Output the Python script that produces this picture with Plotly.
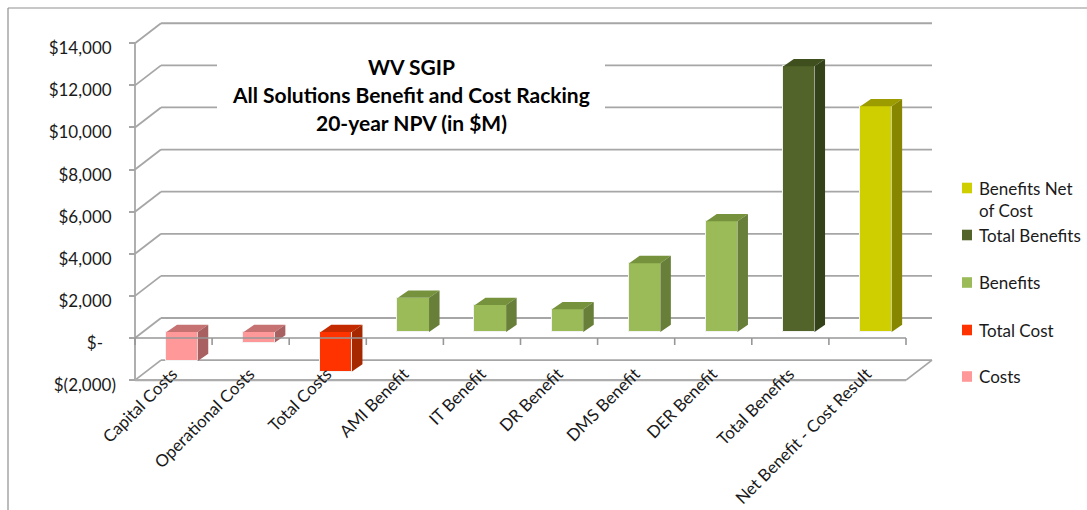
import plotly.graph_objects as go

# Categories along the horizontal axis
categories = ["Capital Costs", "Operational Costs", "Total Costs", "AMI Benefit", "IT Benefit",
              "DR Benefit", "DMS Benefit", "DER Benefit", "Total Benefits", "Net Benefit - Cost Result"]

# Values in $M, grouped by legend series
cost_idx = [0, 1]
cost_vals = [-1375, -500]
total_cost_idx = [2]
total_cost_vals = [-1880]
benefit_idx = [3, 4, 5, 6, 7]
benefit_vals = [1625, 1280, 1075, 3270, 5260]
total_benefit_idx = [8]
total_benefit_vals = [12620]
net_idx = [9]
net_vals = [10720]

y_ticks = [-2000, 0, 2000, 4000, 6000, 8000, 10000, 12000, 14000]
y_labels = ["$(2,000)", "$-\u00a0\u00a0\u00a0", "$2,000\u00a0", "$4,000\u00a0", "$6,000\u00a0", "$8,000\u00a0",
            "$10,000\u00a0", "$12,000\u00a0", "$14,000\u00a0"]

# Page geometry of the plot area and the pseudo-3D projection
W, H = 1087, 510
PLOT_L, PLOT_R, PLOT_T, PLOT_B = 129, 940, 18, 386
LEFT_WALL = 135
CAT_PX = 77.1
ZERO_PX = 338
USD_PER_PX = 47.5


def x_of(px):
    return (px - LEFT_WALL) / CAT_PX - 0.5


def y_of(px):
    return (ZERO_PX - px) * USD_PER_PX


def dx_of(px):
    return px / CAT_PX


def dy_of(px):
    return px * USD_PER_PX


def paper_x(px):
    return (px - PLOT_L) / (PLOT_R - PLOT_L)


def paper_y(px):
    return (PLOT_B - px) / (PLOT_B - PLOT_T)


WALL_DX, WALL_DY = dx_of(26), dy_of(20)
BAR_SHIFT_X, BAR_BASE = dx_of(8.6), dy_of(6)
BAR_W = dx_of(31.2)
BAR_EDGE = dx_of(1)
BAR_DX, BAR_DY = dx_of(10.5), dy_of(7.3)

GRID = "#a6a6a6"
FRAME = "#8f8f8f"
FONT = "Lato"
TEXT = "#1a1a1a"

# name, category positions, values, front / top / side colours, key centre row
series = [
    ("Benefits Net<br>of Cost", net_idx, net_vals, "#cfcf00", "#9c9c00", "#868600", 188),
    ("Total Benefits", total_benefit_idx, total_benefit_vals, "#526429", "#3f4f1e", "#34421a", 235),
    ("Benefits", benefit_idx, benefit_vals, "#9bbb59", "#76923c", "#677f38", 282.5),
    ("Total Cost", total_cost_idx, total_cost_vals, "#ff3300", "#c42a00", "#a62800", 330),
    ("Costs", cost_idx, cost_vals, "#ff9999", "#c77272", "#a86060", 376.5),
]

fig = go.Figure()
shapes = []
annotations = []

for name, idx, vals, front, top, side, key_y in series:
    # Front face: a real bar, lifted and shifted onto the bar plane, with a pale rim
    fig.add_trace(go.Bar(
        x=idx, y=vals, base=BAR_BASE, name=name.replace("<br>", " "), width=BAR_W + BAR_EDGE,
        offset=BAR_SHIFT_X - (BAR_W + BAR_EDGE) / 2,
        marker=dict(color=front, line=dict(width=1, color="#f2f2f2")),
        hoverinfo="x+y", showlegend=False,
    ))
    top_x, top_y, side_x, side_y = [], [], [], []
    for i, v in zip(idx, vals):
        x0 = i + BAR_SHIFT_X - BAR_W / 2
        x1 = x0 + BAR_W
        hi = BAR_BASE + max(v, 0)
        lo = BAR_BASE + min(v, 0)
        top_x += [x0, x0 + BAR_DX, x1 + BAR_DX, x1, x0, None]
        top_y += [hi, hi + BAR_DY, hi + BAR_DY, hi, hi, None]
        side_x += [x1, x1 + BAR_DX, x1 + BAR_DX, x1, x1, None]
        side_y += [hi, hi + BAR_DY, lo + BAR_DY, lo, hi, None]
    for xs, ys, colour in ((top_x, top_y, top), (side_x, side_y, side)):
        fig.add_trace(go.Scatter(
            x=xs, y=ys, mode="lines", fill="toself", fillcolor=colour,
            line=dict(width=0, color=colour), showlegend=False, hoverinfo="skip",
        ))
    # Colour key on the right: swatch and text, spaced unevenly as in the Excel layout
    shapes.append(dict(type="rect", xref="paper", yref="paper",
                       x0=paper_x(962), x1=paper_x(972), y0=paper_y(key_y + 5.3), y1=paper_y(key_y - 5.3),
                       fillcolor=front, line=dict(width=0)))
    annotations.append(dict(text=name, xref="paper", yref="paper", x=paper_x(978), y=paper_y(key_y - 11.5),
                            xanchor="left", yanchor="top", align="left", showarrow=False, borderpad=0,
                            font=dict(family=FONT, size=17, color=TEXT)))


def line(x0, y0, x1, y1, colour=GRID, width=1.8, layer="below"):
    shapes.append(dict(type="line", xref="x", yref="y", x0=x0, y0=y0, x1=x1, y1=y1,
                       line=dict(color=colour, width=width), layer=layer))


x_left, x_right = -0.5, len(categories) - 0.5

# Back wall gridlines and their diagonals on the side wall
for t in y_ticks:
    line(x_left, t, x_left + WALL_DX, t + WALL_DY)
    line(x_left + WALL_DX, t + WALL_DY, x_right + WALL_DX, t + WALL_DY)

# White panel behind the title breaks the two upper gridlines
shapes.append(dict(type="rect", xref="x", yref="y", x0=x_of(217), x1=x_of(605), y0=y_of(130), y1=y_of(50),
                   fillcolor="white", line=dict(width=0), layer="below"))

# Left wall edge and floor outline
line(x_left, y_ticks[0], x_left, y_ticks[-1])
line(x_left, y_ticks[0], x_right, y_ticks[0], colour="#adadad", width=2.4)
line(x_right, y_ticks[0], x_right + WALL_DX, y_ticks[0] + WALL_DY)

# Category axis on the zero plane, passing in front of the bars
line(x_left, 0, x_right, 0, colour="#979797", width=1.6, layer="above")
for k in range(len(categories) + 1):
    line(x_left + k, 0, x_left + k, -dy_of(7), colour="#979797", width=1.6, layer="above")

# Outer chart frame (left and top edges)
shapes.append(dict(type="line", xref="paper", yref="paper", x0=paper_x(8), x1=paper_x(8),
                   y0=paper_y(8), y1=paper_y(H), line=dict(color=FRAME, width=1.2)))
shapes.append(dict(type="line", xref="paper", yref="paper", x0=paper_x(8), x1=paper_x(W),
                   y0=paper_y(8), y1=paper_y(8), line=dict(color=FRAME, width=1.2)))

# Three-line chart heading
title_lines = [("WV SGIP", 66), ("All Solutions Benefit and Cost Racking", 94.5), ("20-year NPV (in $M)", 122)]
annotations += [dict(text=t, xref="x", yref="y", x=x_of(411), y=y_of(py), showarrow=False,
                     font=dict(family=FONT, size=21, color="#000000", weight="bold"))
                for t, py in title_lines]

fig.update_layout(
    width=W, height=H, autosize=False,
    margin=dict(l=PLOT_L, r=W - PLOT_R, t=PLOT_T, b=H - PLOT_B, autoexpand=False),
    paper_bgcolor="white", plot_bgcolor="white",
    barmode="overlay", bargap=0, showlegend=False,
    font=dict(family=FONT, size=17, color=TEXT),
    shapes=shapes, annotations=annotations,
    xaxis=dict(
        range=[x_of(PLOT_L), x_of(PLOT_R)], tickmode="array",
        tickvals=list(range(len(categories))), ticktext=categories,
        tickangle=-45, ticks="", showgrid=False, zeroline=False, showline=False,
        ticklabelstandoff=-26, ticklabelshift=-1, tickfont=dict(family=FONT, size=16.8, color=TEXT),
    ),
    yaxis=dict(
        range=[y_of(PLOT_B), y_of(PLOT_T)], tickmode="array", tickvals=y_ticks, ticktext=y_labels,
        ticks="inside", ticklen=6, tickcolor=GRID, tickwidth=1.6,
        showgrid=False, zeroline=False, showline=False,
        ticklabelstandoff=12, ticklabelshift=5,
        tickfont=dict(family=FONT, size=17, color=TEXT),
    ),
)

fig.write_html("out.html")
